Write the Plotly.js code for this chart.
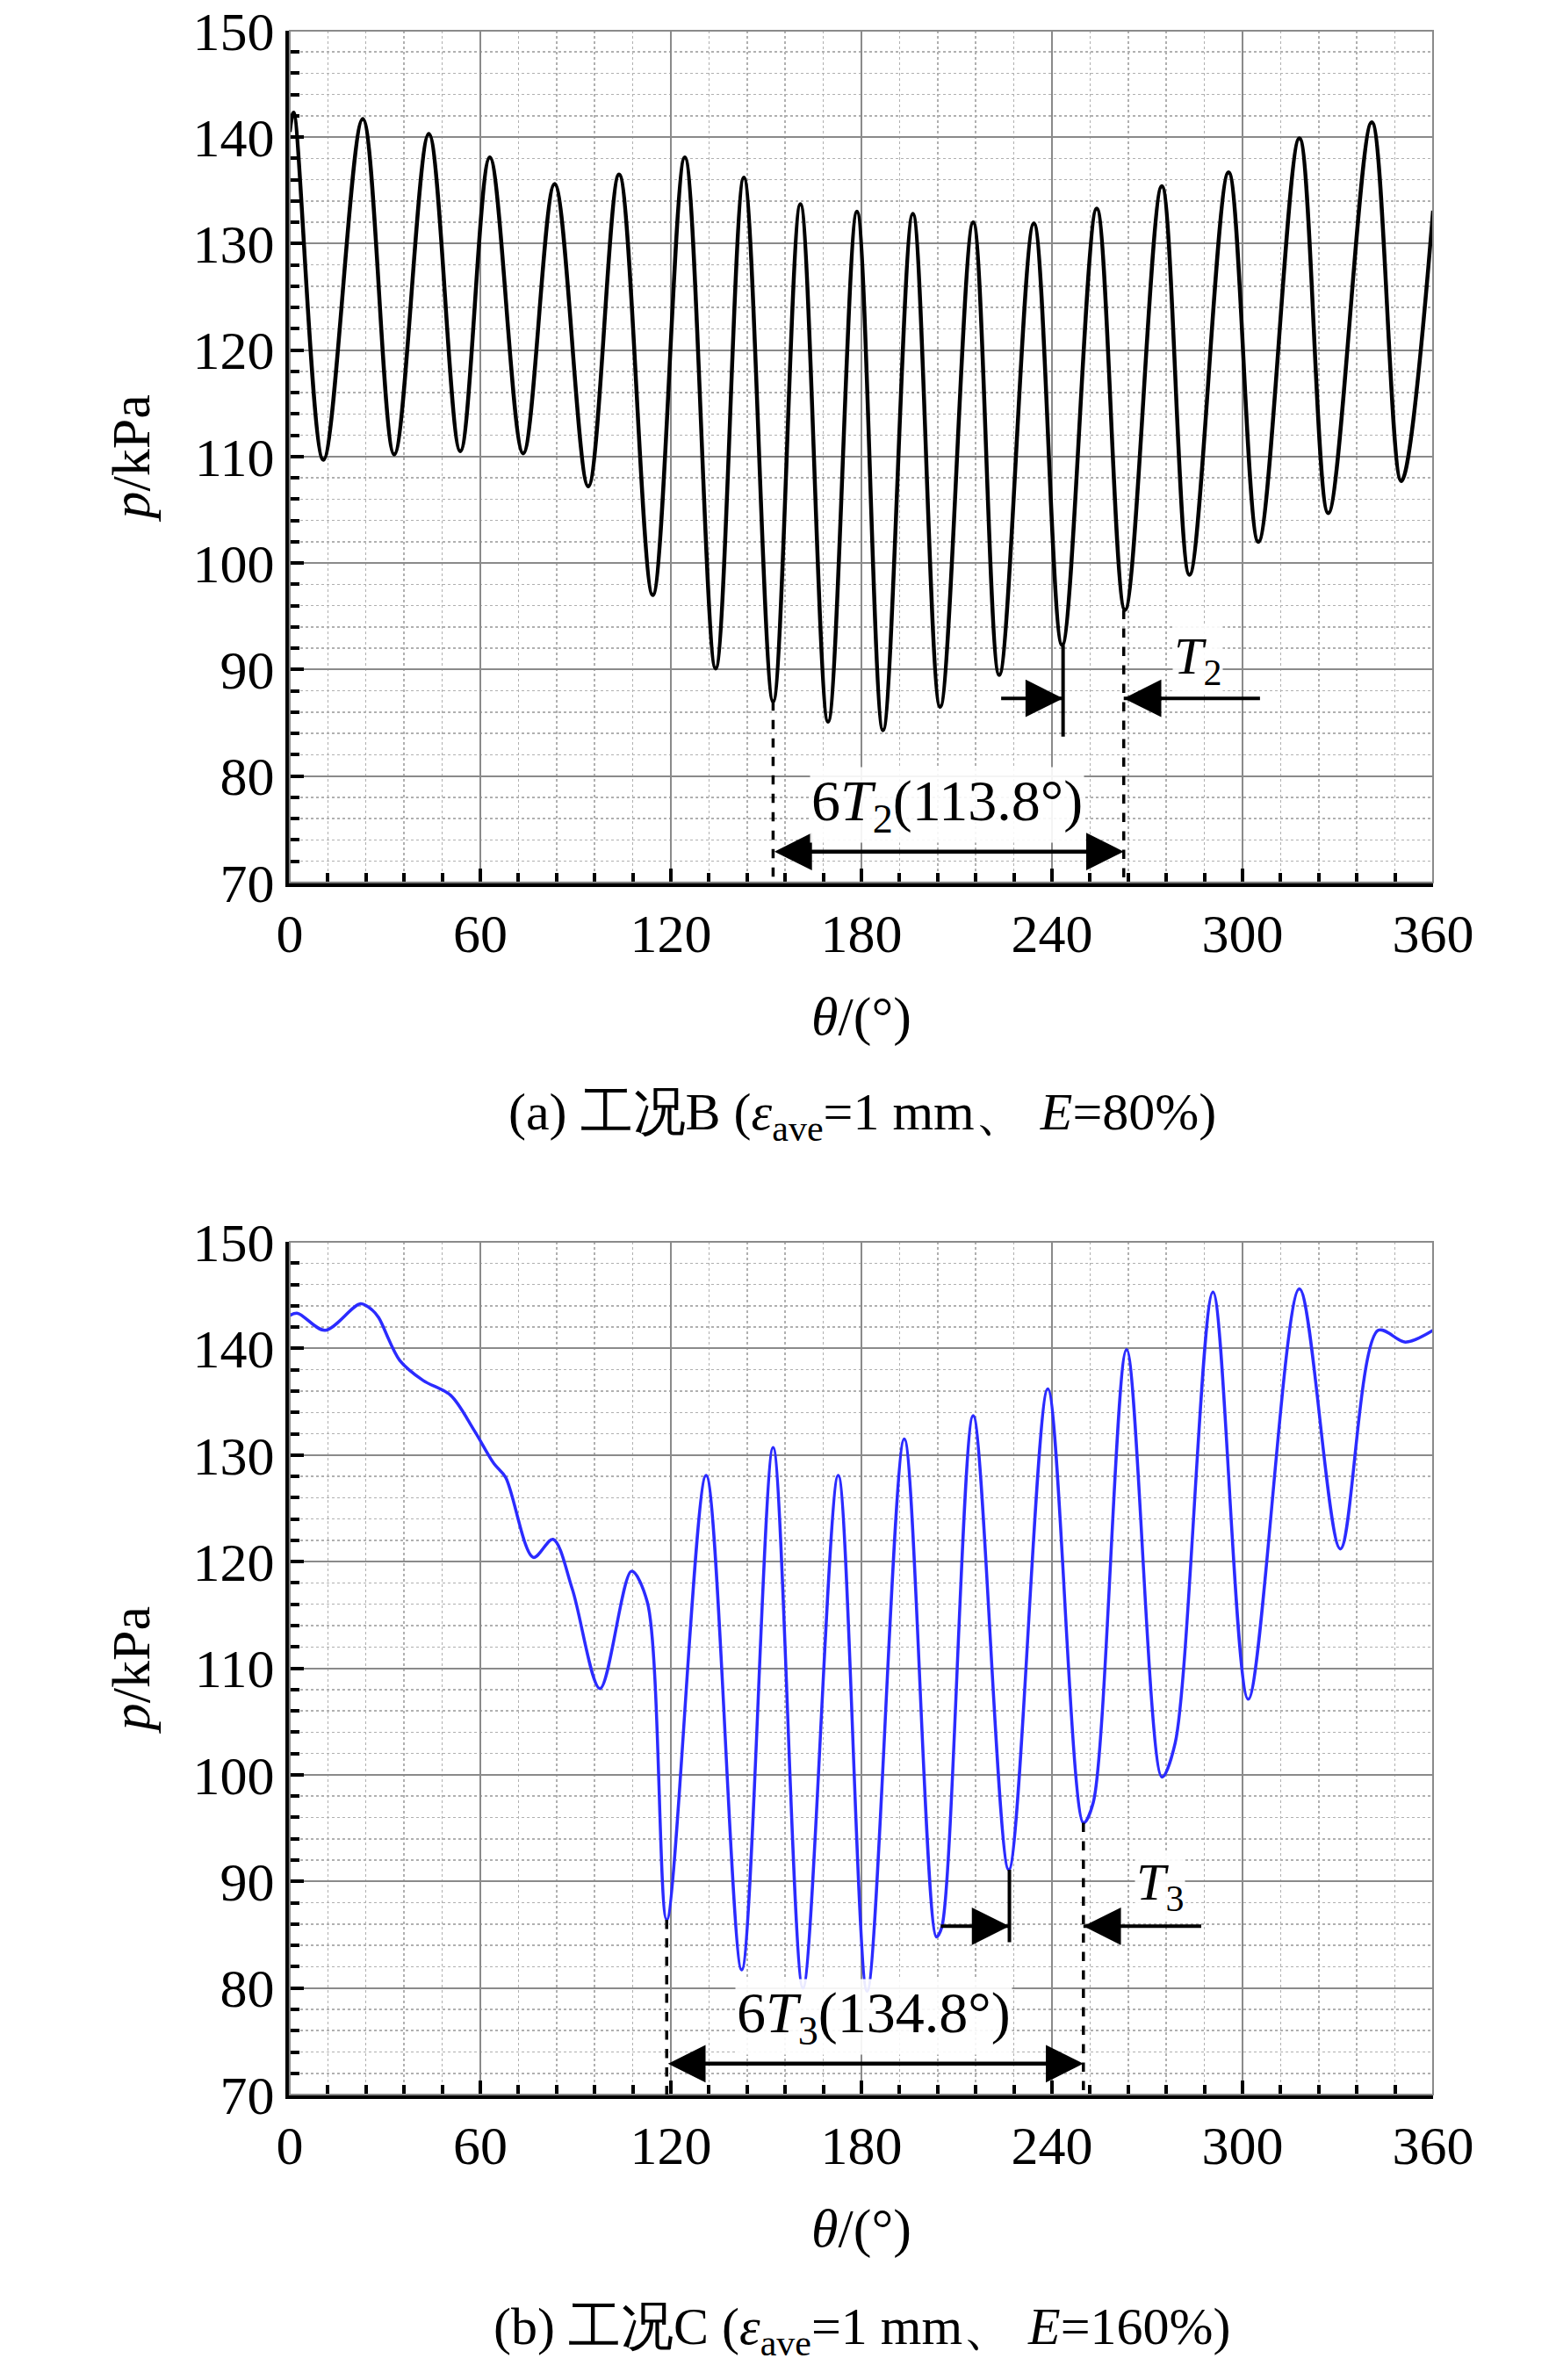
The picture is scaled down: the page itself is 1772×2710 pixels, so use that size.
<!DOCTYPE html>
<html>
<head>
<meta charset="utf-8">
<script src="https://cdn.plot.ly/plotly-3.0.1.min.js"></script>
<style>body{margin:0;background:#fff}</style>
</head>
<body>
<div id="chart" style="width:1772px;height:2710px"></div>
<script>
'use strict';

// case B: extrema of the pressure curve (theta in degrees, p in kPa)
const thetaB = [0, 1.2, 10.6, 23, 32.9, 43.8, 53.7, 63, 73.5, 83.4, 94, 103.7, 114.3, 124.4, 134.1, 143, 152.2,
  160.8, 169.5, 178.6, 186.8, 196.2, 204.8, 215.2, 223.4, 234.3, 243.2, 254.1, 263, 274.6, 283.3, 295.6,
  305, 317.9, 327, 340.7, 350, 360];
const pB = [140.5, 142.3, 109.7, 141.7, 110.2, 140.3, 110.5, 138.1, 110.3, 135.6, 107.2, 136.5, 97.0, 138.1, 90.1, 136.2, 87.0,
  133.7, 85.1, 133.0, 84.3, 132.8, 86.5, 132.0, 89.5, 131.9, 92.3, 133.3, 95.6, 135.4, 98.9, 136.7,
  102.0, 139.9, 104.7, 141.4, 107.7, 133.1];

// case C
const thetaC = [0, 2.5, 11.1, 22.3, 26, 28, 34.6, 42, 50.7, 58.1, 64.3, 68, 76.7, 82.9, 89, 97.7, 107.6, 112.6,
  118.7, 131.1, 142.3, 152.2, 161.6, 172.7, 181.8, 193.5, 203.6, 205.3, 215.2, 226.4, 238.7, 249.9, 253,
  263.5, 274.6, 278.8, 290.7, 301.8, 317.9, 330.8, 342.7, 351.3, 360];
const pC = [143.1, 143.3, 141.7, 144.2, 143.6, 142.9, 138.9, 137.0, 135.6, 132.3, 129.2, 127.9, 120.4, 122.1, 117.4, 108.1, 119.1, 116.2,
  86.4, 128.1, 81.7, 130.7, 80.0, 128.1, 79.7, 131.5, 84.8, 85.7, 133.7, 91.1, 136.2, 95.5, 97.4,
  139.9, 99.8, 103, 145.3, 107.1, 145.6, 121.2, 141.7, 140.6, 141.7];

const xTicks = [0, 60, 120, 180, 240, 300, 360];
const yTicks = [70, 80, 90, 100, 110, 120, 130, 140, 150];

const FONT = 'Liberation Serif';

function xAxis(anchor) {
  return {
    domain: [0.1862, 0.921], range: [0, 360], anchor: anchor,
    tickvals: xTicks, ticks: 'inside', ticklen: 16, tickwidth: 4, tickcolor: '#000',
    showline: true, linecolor: '#000', linewidth: 5,
    showgrid: true, gridcolor: '#8a8a8a', gridwidth: 2, zeroline: false,
    minor: {dtick: 12, ticks: 'inside', ticklen: 11, tickwidth: 4, tickcolor: '#000',
      showgrid: true, gridcolor: '#b0b0b0', griddash: 'dot', gridwidth: 1.5},
    tickfont: {family: FONT, size: 62, color: '#000'},
    title: {text: '<i>θ</i>/(°)', font: {family: FONT, size: 62, color: '#000'}, standoff: 40}
  };
}
function yAxis(anchor, dom) {
  return {
    domain: dom, range: [70, 150], anchor: anchor,
    tickvals: yTicks, ticks: 'inside', ticklen: 16, tickwidth: 4, tickcolor: '#000',
    showline: true, linecolor: '#000', linewidth: 5,
    showgrid: true, gridcolor: '#8a8a8a', gridwidth: 2, zeroline: false,
    minor: {dtick: 2, ticks: 'inside', ticklen: 11, tickwidth: 4, tickcolor: '#000',
      showgrid: true, gridcolor: '#b0b0b0', griddash: 'dot', gridwidth: 1.5},
    tickfont: {family: FONT, size: 62, color: '#000'},
    title: {text: '<i>p</i>/kPa', font: {family: FONT, size: 62, color: '#000'}, standoff: 30}
  };
}

const traces = [
  {x: thetaB, y: pB, xaxis: 'x', yaxis: 'y', mode: 'lines',
    line: {color: '#000', width: 4.5, shape: 'spline', smoothing: 1.0}},
  {x: thetaC, y: pC, xaxis: 'x2', yaxis: 'y2', mode: 'lines',
    line: {color: '#2b2bff', width: 3.5, shape: 'spline', smoothing: 0.9}}
];

function dash(xr, yr, x, y0) {
  return {type: 'line', xref: xr, yref: yr, x0: x, x1: x, y0: y0, y1: 70,
    line: {color: '#000', width: 3.5, dash: 'dash'}};
}
function seg(xr, yr, x0, y0, x1, y1) {
  return {type: 'line', xref: xr, yref: yr, x0: x0, x1: x1, y0: y0, y1: y1,
    line: {color: '#000', width: 4}};
}
function arrow(xr, yr, x, y, ax, ay, side) {
  return {xref: xr, yref: yr, axref: xr, ayref: yr, x: x, y: y, ax: ax, ay: ay, text: '',
    showarrow: true, arrowhead: 2, arrowsize: 1.9, arrowwidth: 4.5, arrowcolor: '#000',
    arrowside: side || 'end'};
}
function label(xr, yr, x, y, text, size) {
  return {xref: xr, yref: yr, x: x, y: y, text: text, showarrow: false,
    font: {family: FONT, size: size, color: '#000'}, bgcolor: 'rgba(255,255,255,0.9)'};
}

const shapes = [
  {type: 'rect', xref: 'paper', yref: 'paper', x0: 0.1862, x1: 0.921, y0: 0.6292, y1: 0.9871, line: {color: '#8a8a8a', width: 2}},
  {type: 'rect', xref: 'paper', yref: 'paper', x0: 0.1862, x1: 0.921, y0: 0.1199, y1: 0.4782, line: {color: '#8a8a8a', width: 2}},
  dash('x', 'y', 152.2, 87), dash('x', 'y', 262.6, 95.6),
  seg('x', 'y', 243.5, 92.3, 243.5, 83.7), seg('x', 'y', 224, 87.3, 243.5, 87.3), seg('x', 'y', 262.6, 87.3, 305.5, 87.3),
  dash('x2', 'y2', 118.7, 86.4), dash('x2', 'y2', 249.9, 95.5),
  seg('x2', 'y2', 226.6, 91.1, 226.6, 84.3), seg('x2', 'y2', 205, 85.8, 226.6, 85.8), seg('x2', 'y2', 249.9, 85.8, 287, 85.8)
];

const annotations = [
  arrow('x', 'y', 262.6, 72.9, 152.2, 72.9, 'end+start'),
  arrow('x', 'y', 243.5, 87.3, 232, 87.3),
  arrow('x', 'y', 262.6, 87.3, 275, 87.3),
  label('x', 'y', 207, 77.3, '6<i>T</i><sub>2</sub>(113.8°)', 66),
  label('x', 'y', 286, 90.9, '<i>T</i><sub>2</sub>', 60),
  arrow('x2', 'y2', 249.9, 72.9, 118.7, 72.9, 'end+start'),
  arrow('x2', 'y2', 226.6, 85.8, 215, 85.8),
  arrow('x2', 'y2', 249.9, 85.8, 262, 85.8),
  label('x2', 'y2', 184, 77.3, '6<i>T</i><sub>3</sub>(134.8°)', 66),
  label('x2', 'y2', 274, 89.6, '<i>T</i><sub>3</sub>', 60),
  {xref: 'paper', yref: 'paper', x: 0.554, y: 0.5166, yanchor: 'bottom', showarrow: false,
    text: '(a) 工况B (<i>ε</i><sub>ave</sub>=1 mm、 <i>E</i>=80%)', font: {family: FONT, size: 60, color: '#000'}},
  {xref: 'paper', yref: 'paper', x: 0.554, y: 0.0063, yanchor: 'bottom', showarrow: false,
    text: '(b) 工况C (<i>ε</i><sub>ave</sub>=1 mm、 <i>E</i>=160%)', font: {family: FONT, size: 60, color: '#000'}}
];

const layout = {
  width: 1772, height: 2710, showlegend: false,
  margin: {l: 0, r: 0, t: 0, b: 0},
  paper_bgcolor: '#fff', plot_bgcolor: '#fff',
  xaxis: xAxis('y'), yaxis: yAxis('x', [0.6292, 0.9871]),
  xaxis2: xAxis('y2'), yaxis2: yAxis('x2', [0.1199, 0.4782]),
  shapes: shapes, annotations: annotations
};

Plotly.newPlot('chart', traces, layout, {staticPlot: true});
</script>
</body>
</html>
